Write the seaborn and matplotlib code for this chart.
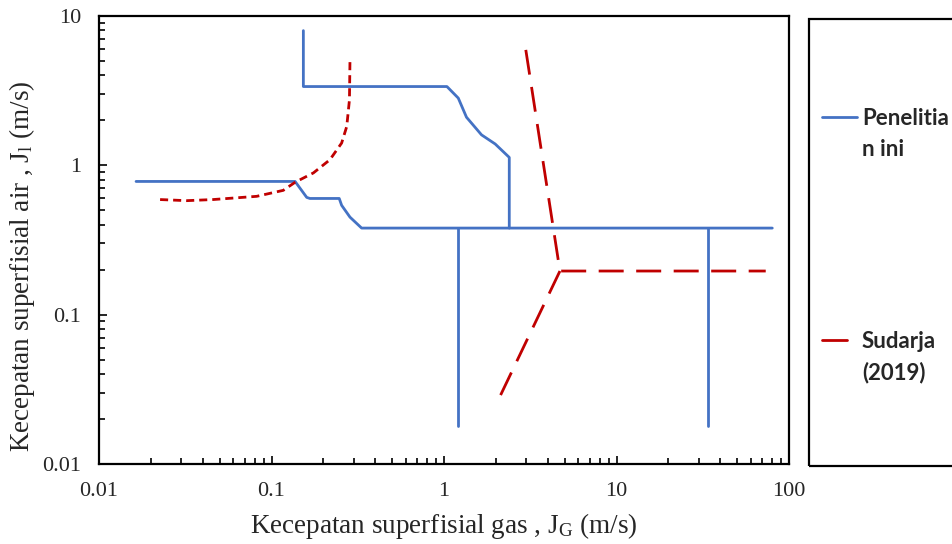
import matplotlib
matplotlib.use("Agg")
import matplotlib.pyplot as plt
import seaborn as sns
from matplotlib.lines import Line2D
from matplotlib.patches import Rectangle
from matplotlib.ticker import FixedLocator, FixedFormatter, LogLocator, NullFormatter

# ---- data (log-log flow pattern map) ----
# Penelitian ini (blue, solid) - several boundary segments
blue_upper_x = [0.153, 0.153, 1.04, 1.21, 1.35, 1.65, 1.98, 2.39, 2.39]
blue_upper_y = [7.98, 3.37, 3.37, 2.82, 2.10, 1.60, 1.39, 1.13, 0.38]
blue_lower_x = [0.0164, 0.137, 0.160, 0.167, 0.247, 0.255, 0.285, 0.333, 80.0]
blue_lower_y = [0.78, 0.78, 0.61, 0.60, 0.60, 0.54, 0.45, 0.38, 0.38]
blue_drop1_x = [1.20, 1.20]
blue_drop1_y = [0.38, 0.018]
blue_drop2_x = [33.9, 33.9]
blue_drop2_y = [0.38, 0.018]

# Sudarja (2019) (red) - short dash curve and long dash boundaries
sud_curve_x = [0.0226, 0.0322, 0.0458, 0.082, 0.117, 0.137, 0.175, 0.218, 0.255, 0.273, 0.283, 0.285]
sud_curve_y = [0.59, 0.58, 0.59, 0.62, 0.68, 0.77, 0.89, 1.09, 1.41, 1.82, 2.74, 4.95]
sud_main_x = [2.98, 4.70, 73.3]
sud_main_y = [5.93, 0.196, 0.196]
sud_branch_x = [4.70, 2.02]
sud_branch_y = [0.196, 0.0255]

xtick_vals = [0.01, 0.1, 1, 10, 100]
xtick_labels = ['0.01', '0.1', '1', '10', '100']
ytick_vals = [0.01, 0.1, 1, 10]
ytick_labels = ['0.01', '0.1', '1', '10']

legend_labels = ['Penelitia\nn ini', 'Sudarja\n(2019)']

BLUE = '#4472C4'
RED = '#C00000'

sns.set_style('white')
plt.rcParams['font.family'] = ['Liberation Serif', 'DejaVu Serif']
plt.rcParams['mathtext.fontset'] = 'custom'
plt.rcParams['mathtext.rm'] = 'Liberation Serif'
plt.rcParams['mathtext.it'] = 'Liberation Serif:italic'

fig = plt.figure(figsize=(9.52, 5.44), dpi=100)
ax = fig.add_axes([99 / 952, 1 - 464 / 544, 690 / 952, 448 / 544])

segments = [
    (blue_upper_x, blue_upper_y, BLUE, '-'),
    (blue_lower_x, blue_lower_y, BLUE, '-'),
    (blue_drop1_x, blue_drop1_y, BLUE, '-'),
    (blue_drop2_x, blue_drop2_y, BLUE, '-'),
    (sud_curve_x, sud_curve_y, RED, (0, (2.9, 1.8))),
    (sud_main_x, sud_main_y, RED, (0, (9, 4.5))),
    (sud_branch_x, sud_branch_y, RED, (0, (9, 4.5))),
]
for xs, ys, col, ls in segments:
    sns.lineplot(x=xs, y=ys, sort=False, estimator=None, ax=ax,
                 color=col, linestyle=ls, linewidth=2.0)

ax.set_xscale('log')
ax.set_yscale('log')
ax.set_xlim(0.01, 100)
ax.set_ylim(0.01, 10)

ax.xaxis.set_major_locator(FixedLocator(xtick_vals))
ax.xaxis.set_major_formatter(FixedFormatter(xtick_labels))
ax.yaxis.set_major_locator(FixedLocator(ytick_vals))
ax.yaxis.set_major_formatter(FixedFormatter(ytick_labels))
ax.xaxis.set_minor_locator(LogLocator(base=10, subs=range(2, 10)))
ax.yaxis.set_minor_locator(LogLocator(base=10, subs=range(2, 10)))
ax.xaxis.set_minor_formatter(NullFormatter())
ax.yaxis.set_minor_formatter(NullFormatter())

ax.tick_params(which='both', direction='in', bottom=True, left=True,
               top=False, right=False, width=1.2, color='black')
ax.tick_params(which='major', length=6, labelsize=16)
ax.tick_params(which='minor', length=4)
ax.tick_params(axis='x', pad=13)
ax.tick_params(axis='y', pad=13)

for sp in ax.spines.values():
    sp.set_color('black')
    sp.set_linewidth(1.6)

ax.set_xlabel(r'Kecepatan superfisial gas , J$_\mathrm{G}$ (m/s)', fontsize=19.5, labelpad=7)
ax.set_ylabel(r'Kecepatan superfisial air , J$_\mathrm{l}$ (m/s)', fontsize=19.5)
ax.yaxis.set_label_coords(-0.09, 0.442)

# legend box (runs off the right edge of the figure, as in the reference)
fig.add_artist(Rectangle((809 / 952, 1 - 466 / 544), 0.3, 447 / 544,
                         transform=fig.transFigure, fill=False,
                         edgecolor='black', linewidth=1.6, clip_on=False))

leg_font = dict(family=['Lato', 'DejaVu Sans'], fontweight='bold', fontsize=16,
                va='top', linespacing=1.56)
# (colour, handle end px, handle y px, text top px, label)
entries = [(BLUE, 857, 117, 108, legend_labels[0]),
           (RED, 847, 340, 331, legend_labels[1])]
for col, x_end, y_line, y_top, lab in entries:
    fig.add_artist(Line2D([822 / 952, x_end / 952], [1 - y_line / 544] * 2,
                          transform=fig.transFigure, color=col, linewidth=2.0))
    fig.text(862 / 952, 1 - y_top / 544, lab, **leg_font)

fig.savefig('out.png', dpi=100)
